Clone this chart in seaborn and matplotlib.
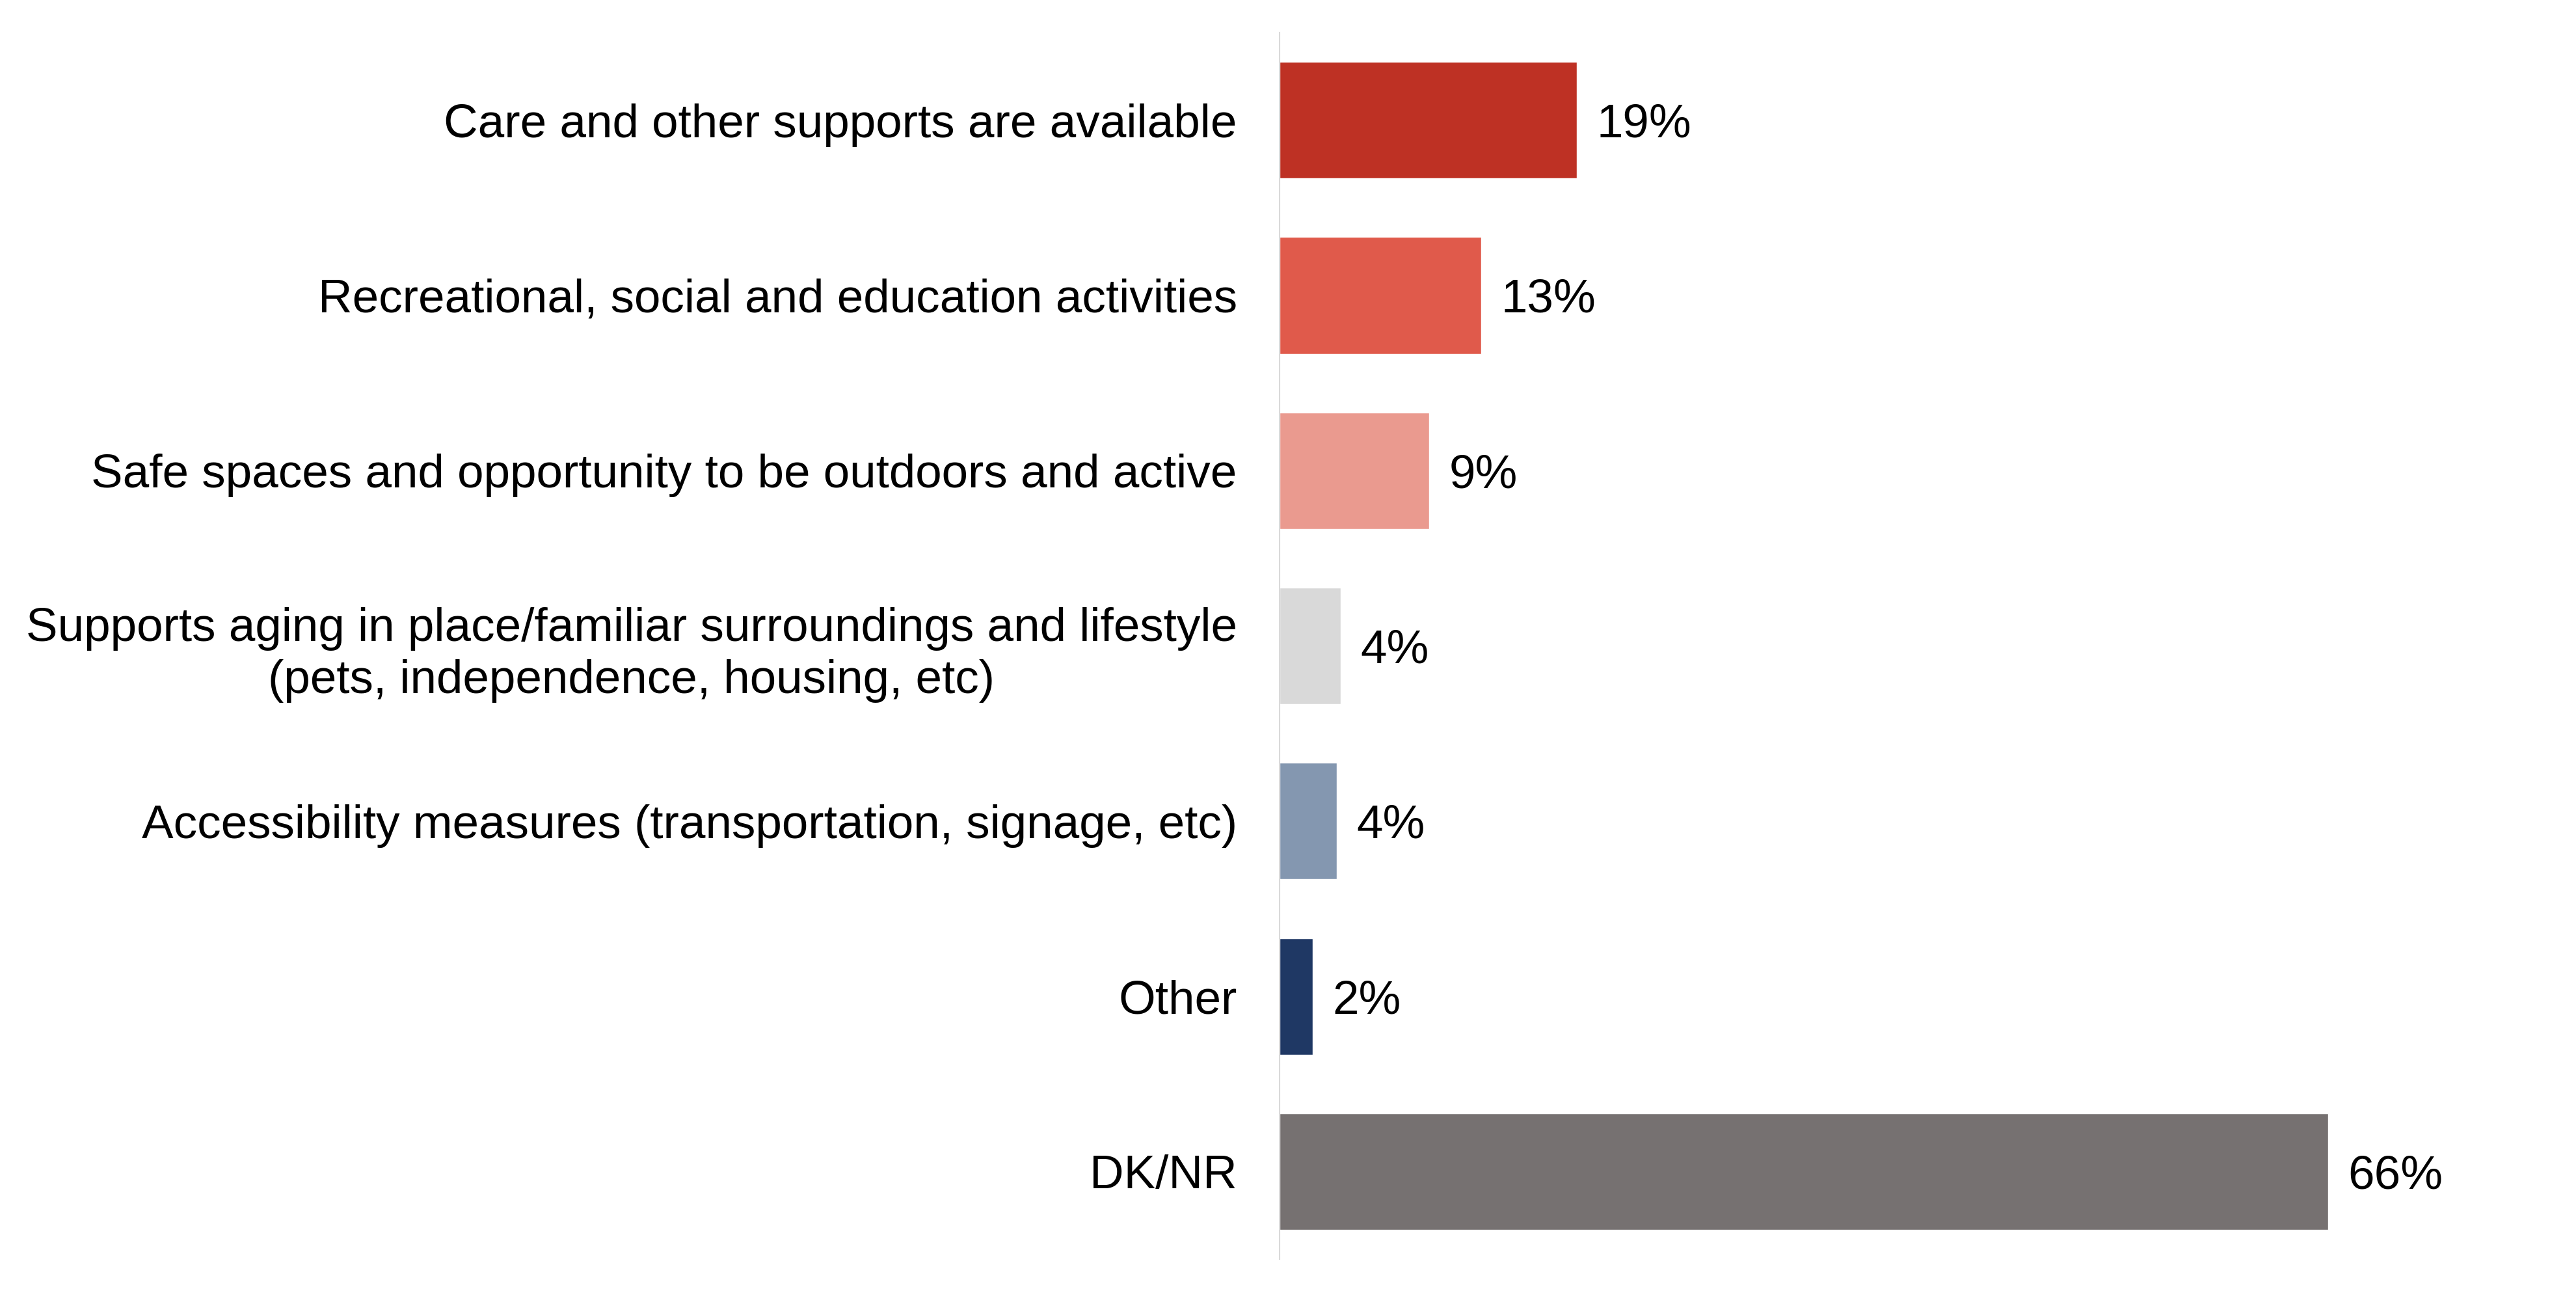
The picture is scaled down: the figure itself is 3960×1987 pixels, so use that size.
import matplotlib
matplotlib.use("Agg")
import matplotlib.pyplot as plt
import seaborn as sns
import pandas as pd

categories = [
    "Care and other supports are available",
    "Recreational, social and education activities",
    "Safe spaces and opportunity to be outdoors and active",
    "Supports aging in place/familiar surroundings and lifestyle\n(pets, independence, housing, etc)",
    "Accessibility measures (transportation, signage, etc)",
    "Other",
    "DK/NR",
]
values = [18.9, 12.8, 9.5, 3.9, 3.65, 2.1, 66.6]
value_labels = ["19%", "13%", "9%", "4%", "4%", "2%", "66%"]
colors = ["#BE3124", "#E05A4B", "#EA9A8F", "#D9D9D9", "#8497B0", "#1F3864", "#767171"]

df = pd.DataFrame({"category": categories, "value": values})

sns.set_theme(style="white")
plt.rcParams["font.family"] = ["Liberation Sans", "DejaVu Sans"]

fig = plt.figure(figsize=(39.6, 19.87), dpi=100)
ax = fig.add_axes([0.4967, 0.0262, 0.4889, 0.9486])

sns.barplot(data=df, y="category", x="value", hue="category", palette=colors,
            order=categories, hue_order=categories, legend=False, width=0.665,
            orient="h", ax=ax, saturation=1)

ax.set_xlim(0, 80)
ax.set_ylim(6.5, -0.5)
ax.set_xlabel("")
ax.set_ylabel("")
ax.set_xticks([])
for s in ["top", "right", "bottom"]:
    ax.spines[s].set_visible(False)
ax.spines["left"].set_color("#D9D9D9")
ax.spines["left"].set_linewidth(1.5)
ax.tick_params(axis="y", length=0, pad=47, labelsize=52.5, labelcolor="black")
for lab in ax.get_yticklabels():
    lab.set_multialignment("center")
    lab.set_linespacing(1.25)

for cont, lbl in zip(ax.containers, value_labels):
    anns = ax.bar_label(cont, labels=[lbl], padding=22, fontsize=52.5, color="black")
    for a in anns:
        a.set_va("center_baseline")

fig.savefig("out.png", dpi=100, facecolor="white")
